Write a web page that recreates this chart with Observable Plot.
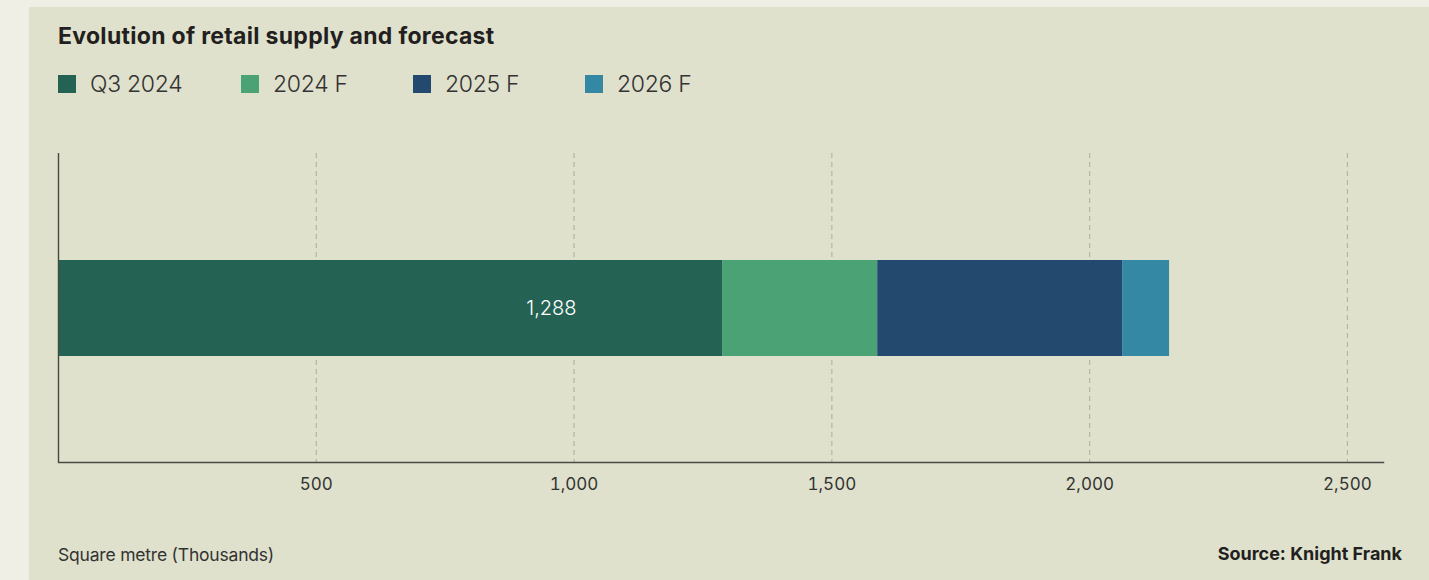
<!DOCTYPE html>
<html>
<head>
<meta charset="utf-8">
<script src="https://cdn.jsdelivr.net/npm/d3@7"></script>
<script src="https://cdn.jsdelivr.net/npm/@observablehq/plot@0.6"></script>
<style>
  html, body { margin: 0; padding: 0; background: #efefe5; width: 1429px; height: 580px; overflow: hidden; font-family: Inter, "Noto Sans", sans-serif; }
  #panel { position: absolute; left: 29px; top: 7px; width: 1400px; height: 573px; background: #dfe1cc; }
  #title { position: absolute; left: 29px; top: 15px; font-size: 23px; font-weight: 700; color: #231f20; letter-spacing: 0.3px; }
  #legend { position: absolute; left: 29px; top: 63px; display: flex; align-items: center; }
  .item { display: flex; align-items: center; width: 172px; font-size: 23px; font-weight: 300; color: #333; letter-spacing: -0.3px; }
  .item:first-child { width: 183px; }
  .sw { width: 18px; height: 18px; margin-right: 14px; }
  #chart { position: absolute; left: 0; top: 133px; }
  #note { position: absolute; left: 29px; top: 537px; font-size: 17.5px; color: #333; font-weight: 400; letter-spacing: -0.2px; }
  #source { position: absolute; right: 27px; top: 536px; font-size: 18px; color: #231f20; font-weight: 700; letter-spacing: 0px; }
</style>
</head>
<body>
<div id="panel">
  <div id="title">Evolution of retail supply and forecast</div>
  <div id="legend"></div>
  <div id="chart"></div>
  <div id="note">Square metre (Thousands)</div>
  <div id="source">Source: Knight Frank</div>
</div>
<script>
const categories = ["Q3 2024", "2024 F", "2025 F", "2026 F"];
const values = [1288, 301, 475, 91];
const colors = ["#246353", "#4ba375", "#23496e", "#3488a3"];
const ticks = [0, 500, 1000, 1500, 2000, 2500];
const tickLabels = ["", "500", "1,000", "1,500", "2,000", "2,500"];
const rowName = "Retail supply";

const data = categories.map((c, i) => ({ row: rowName, series: c, value: values[i] }));

const legend = document.getElementById("legend");
categories.forEach((c, i) => {
  const it = document.createElement("div");
  it.className = "item";
  const sw = document.createElement("div");
  sw.className = "sw";
  sw.style.background = colors[i];
  const t = document.createElement("span");
  t.textContent = c;
  it.appendChild(sw); it.appendChild(t);
  legend.appendChild(it);
});

const chart = Plot.plot({
  width: 1400,
  height: 370,
  marginLeft: 29,
  marginRight: 46,
  marginTop: 13,
  marginBottom: 48,
  style: { background: "transparent", fontFamily: "Inter, 'Noto Sans', sans-serif", fontSize: "17px", color: "#333" },
  x: { domain: [0, 2570] },
  y: { domain: [rowName], padding: 0.526, axis: null },
  color: { domain: categories, range: colors },
  marks: [
    Plot.ruleX(ticks, { stroke: "#b3b5a3", strokeWidth: 1.2, strokeDasharray: "5,4" }),
    Plot.barX(data, Plot.stackX({ x: "value", y: "row", fill: "series", order: categories })),
    Plot.text(data.filter(d => d.series === categories[0]), {
      x: "value", y: "row", text: d => d3.format(",")(d.value),
      fill: "white", fontSize: 20, fontWeight: 300, textAnchor: "end", dx: -146
    }),
    Plot.axisX(ticks, { tickSize: 0, tickPadding: 15, tickFormat: (d) => tickLabels[ticks.indexOf(d)], fontSize: 17, fill: "#333", label: null }),
    Plot.ruleX([0], { stroke: "#4a4a44", strokeWidth: 1.4 }),
    Plot.frame({ anchor: "bottom", stroke: "#4a4a44", strokeWidth: 1.4 })
  ]
});
document.getElementById("chart").appendChild(chart);
</script>
</body>
</html>
